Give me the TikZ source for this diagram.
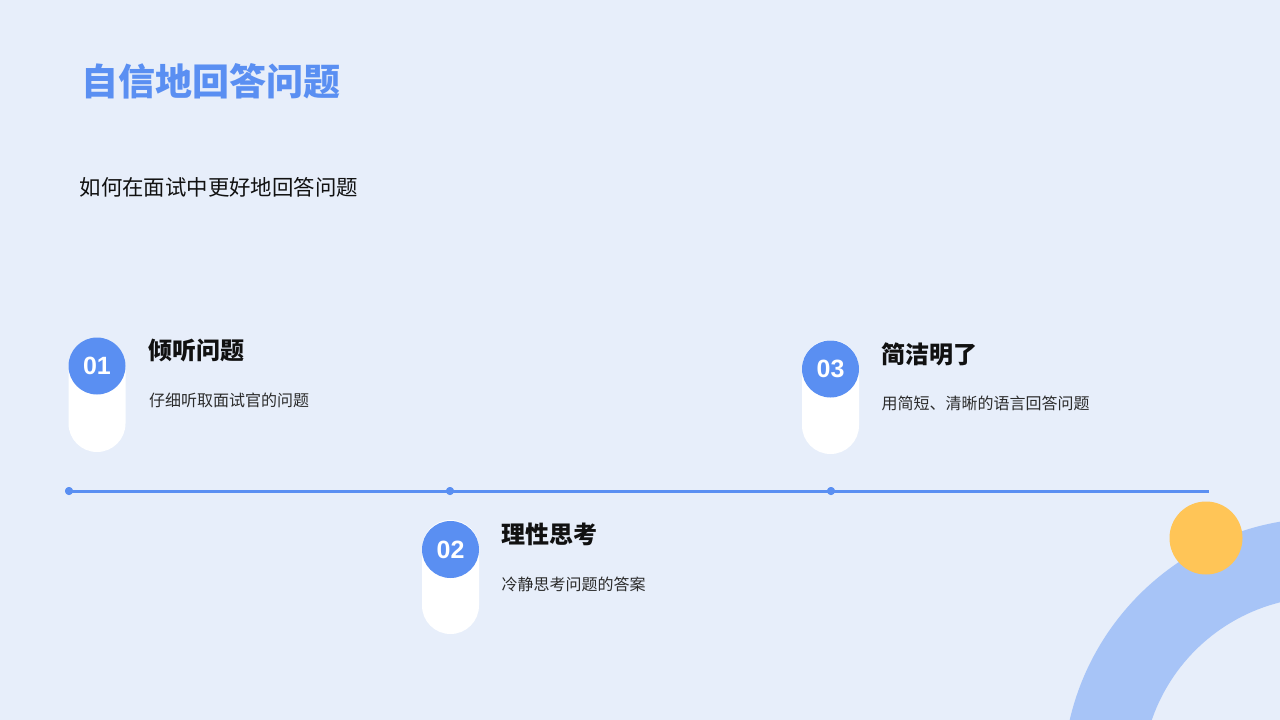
\documentclass[tikz,border=0pt]{standalone}
\usepackage{fontspec}
\setmainfont{Noto Sans CJK SC}
\newfontfamily\cjk{Noto Sans CJK SC}
\newfontfamily\numfont{Liberation Sans}
\definecolor{bgc}{HTML}{E7EEFA}
\definecolor{mainblue}{HTML}{5A8FF2}
\definecolor{ringblue}{HTML}{A7C4F7}
\definecolor{sunc}{HTML}{FFC557}
\definecolor{darktxt}{HTML}{111111}
\definecolor{desctxt}{HTML}{2B2B2B}
\tikzset{
  pill/.style={fill=white, minimum width=57pt, minimum height=114pt, rounded corners=28.5pt, inner sep=0pt},
  numc/.style={circle, fill=mainblue, minimum size=57pt, inner sep=0pt, text=white, font=\numfont\fontsize{25}{25}\selectfont\bfseries},
  dotc/.style={circle, fill=mainblue, minimum size=8pt, inner sep=0pt},
  ttl/.style={anchor=west, inner sep=0pt, text=darktxt, font=\cjk\fontsize{24}{24}\selectfont\bfseries},
  dsc/.style={anchor=west, inner sep=0pt, text=desctxt, font=\cjk\fontsize{16}{16}\selectfont},
  tl/.style={draw=mainblue, line width=3pt}
}
\begin{document}
\begin{tikzpicture}[x=1pt,y=-1pt]
\fill[bgc] (0,0) rectangle (1280,720);
\useasboundingbox (0,0) rectangle (1280,720);
% decorative ring
\begin{scope}
\clip (0,0) rectangle (1280,720);
\fill[ringblue, even odd rule] (1324,779) circle (261pt) (1324,779) circle (182pt);
\end{scope}
\fill[sunc] (1206,538) circle (36.5pt);
% heading
\node[anchor=west, inner sep=0pt, text=mainblue, font=\cjk\fontsize{37}{37}\selectfont\bfseries] (title) at (81,81.5) {自信地回答问题};
\node[anchor=west, inner sep=0pt, text=darktxt, font=\cjk\fontsize{21.4}{21.4}\selectfont] (sub) at (79.5,187) {如何在面试中更好地回答问题};
% timeline
\coordinate (lend) at (1209,491);
\node[dotc] (d1) at (69,491) {};
\node[dotc] (d2) at (450,491) {};
\node[dotc] (d3) at (831,491) {};
\draw[tl] (d1.center) -- (lend);
\node[dotc] at (d1) {};
\node[dotc] at (d2) {};
\node[dotc] at (d3) {};
% step 1
\node[pill] (p1) at (97,395) {};
\node[numc] (n1) at (97,366) {01};
\node[ttl] (t1) at (148.5,351) {倾听问题};
\node[dsc] (s1) at (149,400) {仔细听取面试官的问题};
% step 2
\node[pill] (p2) at (450.5,577) {};
\node[numc] (n2) at (450.5,549.5) {02};
\node[ttl] (t2) at (501,534) {理性思考};
\node[dsc] (s2) at (501.5,584) {冷静思考问题的答案};
% step 3
\node[pill] (p3) at (830.5,397) {};
\node[numc] (n3) at (830.5,369) {03};
\node[ttl] (t3) at (881,354) {简洁明了};
\node[dsc] (s3) at (881.5,403) {用简短、清晰的语言回答问题};
\end{tikzpicture}
\end{document}
